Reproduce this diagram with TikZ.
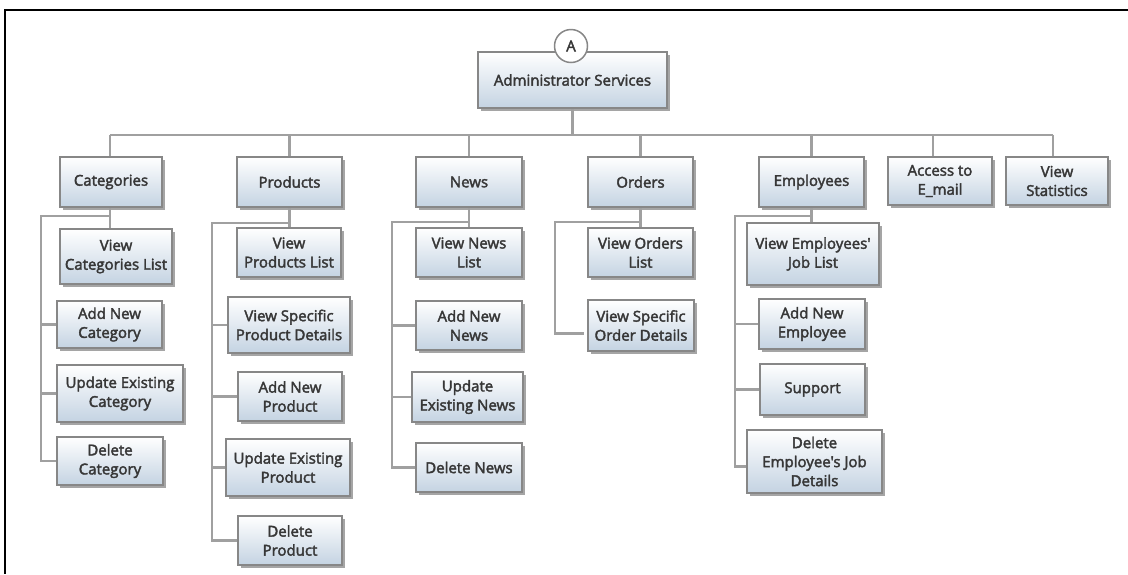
\documentclass[tikz,border=0pt]{standalone}
\usepackage{fontspec}
\newfontfamily\boxfont{Open Sans}[FakeBold=2.5]
\usetikzlibrary{shadows}
\definecolor{boxline}{RGB}{135,135,135}
\definecolor{boxbot}{RGB}{196,211,226}
\definecolor{txt}{RGB}{55,55,55}
\definecolor{lnk}{RGB}{160,160,160}
\begin{document}
\begin{tikzpicture}[x=1pt,y=-1pt,
  box/.style={draw=boxline, line width=1.5pt, top color=white, bottom color=boxbot,
    drop shadow={shadow xshift=2.5pt,shadow yshift=-3pt,opacity=0.5,fill=black!70},
    font=\boxfont\fontsize{15}{19}\selectfont, text=txt, align=center, inner sep=0pt},
  conn/.style={draw=lnk, line width=2.3pt},
  frame/.style={draw=black, line width=2pt}]
\useasboundingbox (0,0) rectangle (1128,574);
\coordinate (fa) at (4,10);
\coordinate (fb) at (1128,10);
\coordinate (fc) at (5,574);
\draw[frame] (fb) -- (fa -| fc) -- (fc);

% junction points
\coordinate (busL) at (110,135);
\coordinate (busR) at (1053,135);
\coordinate (sCat) at (41,216);
\coordinate (sPro) at (212,223);
\coordinate (sNew) at (392,222);
\coordinate (sOrd) at (555,222);
\coordinate (sEmp) at (735,216);

% nodes
\node[box, minimum width=189, minimum height=56] (adm) at (572.5,80) {Administrator Services};
\node[draw=boxline, line width=1.5pt, fill=white, circle, minimum size=33, inner sep=0pt,
      font=\boxfont\fontsize{15}{19}\selectfont, text=txt] (A) at (571,46) {A};

\node[box, minimum width=102, minimum height=50] (cat) at (111,182) {Categories};
\node[box, minimum width=105, minimum height=50] (pro) at (289.5,182) {Products};
\node[box, minimum width=106, minimum height=50] (new) at (469,182) {News};
\node[box, minimum width=105, minimum height=50] (ord) at (640.5,182) {Orders};
\node[box, minimum width=105, minimum height=50] (emp) at (811.5,182) {Employees};
\node[box, minimum width=104, minimum height=48] (acc) at (940,181) {Access to\\E\_mail};
\node[box, minimum width=102, minimum height=48] (sta) at (1057,181) {View\\Statistics};

\node[box, minimum width=112, minimum height=55] (c1) at (116,256.5) {View\\Categories List};
\node[box, minimum width=105, minimum height=47] (c2) at (109.5,324.5) {Add New\\Category};
\node[box, minimum width=126, minimum height=57] (c3) at (120,393.5) {Update Existing\\Category};
\node[box, minimum width=106, minimum height=48] (c4) at (110,461) {Delete\\Category};

\node[box, minimum width=104, minimum height=49] (p1) at (289,252.5) {View\\Products List};
\node[box, minimum width=122, minimum height=56] (p2) at (289,325) {View Specific\\Product Details};
\node[box, minimum width=104, minimum height=49] (p3) at (290,396.5) {Add New\\Product};
\node[box, minimum width=124, minimum height=57] (p4) at (288,467.5) {Update Existing\\Product};
\node[box, minimum width=104, minimum height=49] (p5) at (290,540.5) {Delete\\Product};

\node[box, minimum width=106, minimum height=49] (n1) at (469,252.5) {View News\\List};
\node[box, minimum width=106, minimum height=49] (n2) at (469,325.5) {Add New\\News};
\node[box, minimum width=111, minimum height=50] (n3) at (467.5,397) {Update\\Existing News};
\node[box, minimum width=106, minimum height=49] (n4) at (469,467.5) {Delete News};

\node[box, minimum width=105, minimum height=49] (o1) at (640.5,252.5) {View Orders\\List};
\node[box, minimum width=106, minimum height=51] (o2) at (641,325.5) {View Specific\\Order Details};

\node[box, minimum width=132, minimum height=62] (e1) at (813,254) {View Employees'\\Job List};
\node[box, minimum width=106, minimum height=50] (e2) at (812,324) {Add New\\Employee};
\node[box, minimum width=105, minimum height=51] (e3) at (812.5,389.5) {Support};
\node[box, minimum width=135, minimum height=63] (e4) at (814.5,461.5) {Delete\\Employee's Job\\Details};

% connectors
\draw[conn] (busL) -- (busR);
\draw[conn] (adm.south) -- (adm.south |- busL);
\draw[conn] (busL) -- (cat.north -| busL);
\draw[conn] (pro.north |- busL) -- (pro.north);
\draw[conn] (new.north |- busL) -- (new.north);
\draw[conn] (ord.north |- busL) -- (ord.north);
\draw[conn] (emp.north |- busL) -- (emp.north);
\draw[conn] ([xshift=-7pt]acc.north |- busL) -- ([xshift=-7pt]acc.north);
\draw[conn] (busR) -- (busR |- sta.north);

% categories
\draw[conn] (cat.south -| busL) -- (c1.north -| busL);
\draw[conn] (sCat -| busL) -- (sCat) -- (sCat |- c4.west) -- (c4.west);
\draw[conn] (sCat |- c2.west) -- (c2.west);
\draw[conn] (sCat |- c3.west) -- (c3.west);
% products
\draw[conn] (pro.south) -- (p1.north -| pro.south);
\draw[conn] (sPro -| pro.south) -- (sPro) -- (sPro |- p5.west) -- (p5.west);
\draw[conn] (sPro |- p2.west) -- (p2.west);
\draw[conn] (sPro |- p3.west) -- (p3.west);
\draw[conn] (sPro |- p4.west) -- (p4.west);
% news
\draw[conn] (new.south) -- (n1.north -| new.south);
\draw[conn] (sNew -| new.south) -- (sNew) -- (sNew |- n4.west) -- (n4.west);
\draw[conn] (sNew |- n2.west) -- (n2.west);
\draw[conn] (sNew |- n3.west) -- (n3.west);
% orders
\draw[conn] (ord.south) -- (o1.north -| ord.south);
\draw[conn] (sOrd -| ord.south) -- (sOrd) -- ([yshift=-8pt]sOrd |- o2.west) -- ([yshift=-8pt,xshift=-3pt]o2.west);
% employees
\draw[conn] (emp.south) -- (e1.north -| emp.south);
\draw[conn] (sEmp -| emp.south) -- (sEmp) -- ([yshift=-5pt]sEmp |- e4.west) -- ([yshift=-5pt]e4.west);
\draw[conn] (sEmp |- e2.west) -- (e2.west);
\draw[conn] (sEmp |- e3.west) -- (e3.west);
\end{tikzpicture}
\end{document}
